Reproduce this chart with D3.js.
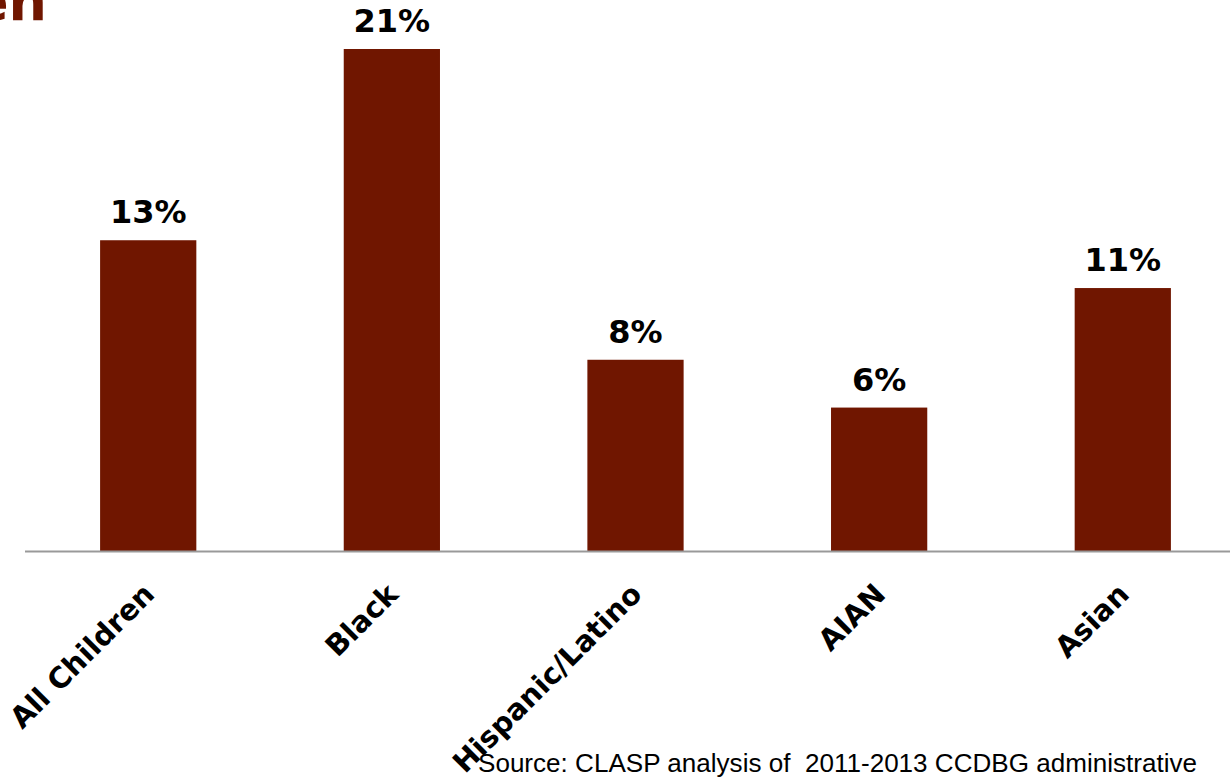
<!DOCTYPE html>
<html>
<head>
<meta charset="utf-8">
<script src="https://cdn.jsdelivr.net/npm/d3@7"></script>
<style>
  body { margin: 0; background: #fff; }
  svg { display: block; }
</style>
</head>
<body>
<div id="chart"></div>
<script>
// data
var categories = ["All Children", "Black", "Hispanic/Latino", "AIAN", "Asian"];
var values = [13, 21, 8, 6, 11];
var valueLabels = ["13%", "21%", "8%", "6%", "11%"];
var sourceNote = "Source: CLASP analysis of  2011-2013 CCDBG administrative";

var width = 1230, height = 777;
var barColor = "#701600";

var svg = d3.select("#chart").append("svg")
    .attr("width", width)
    .attr("height", height);

// cut-off title at top left
svg.append("text")
    .attr("x", 47)
    .attr("y", 20)
    .attr("text-anchor", "end")
    .attr("font-family", "DejaVu Sans")
    .attr("font-weight", "bold")
    .attr("font-size", 54)
    .attr("fill", barColor)
    .text("Children");

var x = d3.scaleBand()
    .domain(categories)
    .range([27, 1244])
    .paddingInner(0.605)
    .paddingOuter(0.3);

var y = d3.scaleLinear()
    .domain([0, 21])
    .range([551, 49]);

var rows = categories.map(function(c, i) {
  return {cat: c, val: values[i], label: valueLabels[i]};
});

// bars
svg.append("g")
  .selectAll("rect")
  .data(rows)
  .enter()
  .append("rect")
    .attr("x", function(d) { return x(d.cat); })
    .attr("y", function(d) { return y(d.val); })
    .attr("width", x.bandwidth())
    .attr("height", function(d) { return y(0) - y(d.val); })
    .attr("fill", barColor);

// value labels
svg.append("g")
  .selectAll("text")
  .data(rows)
  .enter()
  .append("text")
    .attr("x", function(d) { return x(d.cat) + x.bandwidth() / 2; })
    .attr("y", function(d) { return y(d.val) - 17; })
    .attr("text-anchor", "middle")
    .attr("font-family", "DejaVu Sans")
    .attr("font-weight", "bold")
    .attr("font-size", 32)
    .attr("fill", "#000")
    .text(function(d) { return d.label; });

// x axis
var xAxis = svg.append("g")
    .attr("transform", "translate(0," + y(0) + ")")
    .call(d3.axisBottom(x).tickSize(0).tickSizeOuter(0));

xAxis.select(".domain")
    .attr("d", "M25,0.5H1230")
    .attr("stroke", "#999")
    .attr("stroke-width", 2);

xAxis.selectAll(".tick text")
    .attr("font-family", "DejaVu Sans")
    .attr("font-weight", "bold")
    .attr("font-size", 29)
    .attr("fill", "#000")
    .attr("text-anchor", "end")
    .attr("dy", null)
    .attr("y", 0)
    .attr("transform", "translate(8,45) rotate(-45)");

// source note
svg.append("text")
    .attr("x", 478)
    .attr("y", 772)
    .attr("font-family", "Liberation Sans, Arial, sans-serif")
    .attr("font-size", 26)
    .attr("fill", "#000")
    .style("white-space", "pre")
    .attr("textLength", 719)
    .attr("lengthAdjust", "spacingAndGlyphs")
    .text(sourceNote);
</script>
</body>
</html>
